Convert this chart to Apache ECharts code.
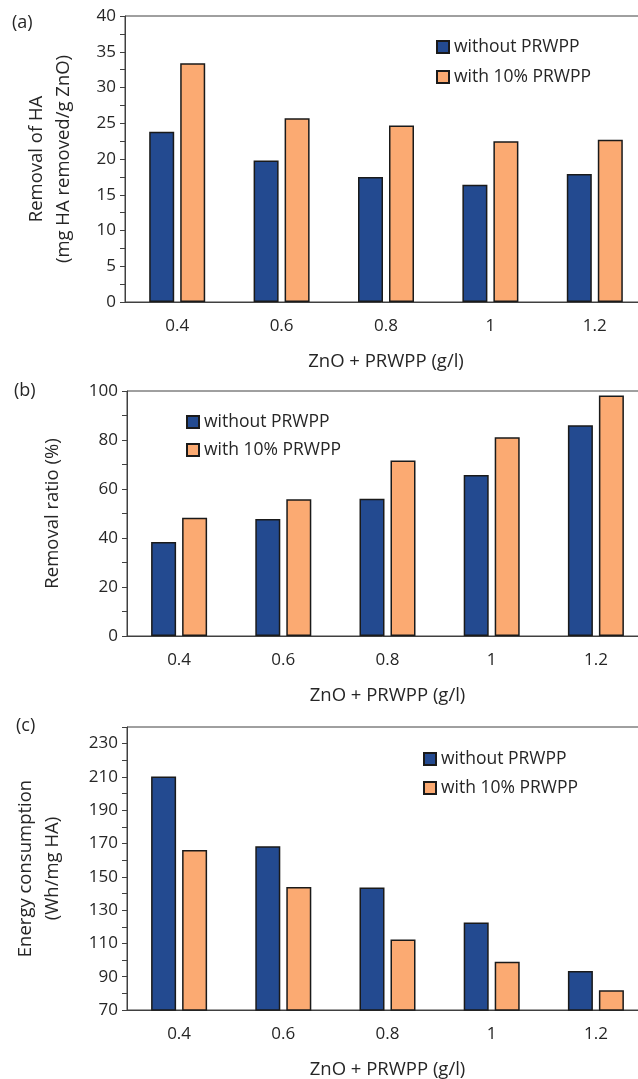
<!DOCTYPE html>
<html>
<head>
<meta charset="utf-8">
<script src="https://cdn.jsdelivr.net/npm/echarts@6/dist/echarts.min.js"></script>
<style>
  html, body { margin: 0; padding: 0; background: #fff; }
  #myChart { width: 638px; height: 1079px; }
</style>
</head>
<body>
<div id="myChart"></div>
<script>
// data
var categories = ['0.4', '0.6', '0.8', '1', '1.2']
var seriesNames = ['without PRWPP', 'with 10% PRWPP']
var removalWithout = [23.8, 19.8, 17.5, 16.4, 17.9]
var removalWith = [33.4, 25.7, 24.7, 22.5, 22.7]
var ratioWithout = [38.4, 47.8, 56.0, 65.7, 86.0]
var ratioWith = [48.3, 55.8, 71.6, 81.1, 98.2]
var energyWithout = [210.3, 168.3, 143.6, 122.6, 93.4]
var energyWith = [166.1, 143.9, 112.4, 99.0, 81.8]

// init color
var blueColor = '#234a90'
var orangeColor = '#fbaa72'
var edgeColor = '#1a1a1a'
var textColor = '#262626'
var lineColor = '#404040'
var fontFamily = '"Open Sans", sans-serif'

// plot areas run a little past the right edge, like the original
var grids = [
  { left: 125, top: 16, width: 522, height: 286, outerBoundsMode: 'none', show: true, borderColor: lineColor, borderWidth: 1 },
  { left: 127, top: 391, width: 521, height: 245, outerBoundsMode: 'none', show: true, borderColor: lineColor, borderWidth: 1 },
  { left: 127, top: 727, width: 521, height: 283, outerBoundsMode: 'none', show: true, borderColor: lineColor, borderWidth: 1 }
]

var xAxes = []
var yAxes = []
var series = []

function addXAxes(gridIndex) {
  // main category axis, ticks on the boundaries
  xAxes.push({
    type: 'category',
    gridIndex: gridIndex,
    position: 'bottom',
    data: categories,
    name: 'ZnO + PRWPP (g/l)',
    nameLocation: 'middle',
    nameGap: 50,
    nameTextStyle: { color: textColor, fontSize: 18.5, fontFamily: fontFamily },
    axisLine: { lineStyle: { color: lineColor, width: 1 } },
    axisTick: { length: 5, lineStyle: { color: lineColor } },
    axisLabel: { color: textColor, fontSize: 17, fontFamily: fontFamily, margin: 16 }
  })
  // second axis only for the ticks under each category
  xAxes.push({
    type: 'category',
    gridIndex: gridIndex,
    position: 'bottom',
    data: categories,
    axisLine: { show: false },
    axisTick: { alignWithLabel: true, length: 5, lineStyle: { color: lineColor } },
    axisLabel: { show: false }
  })
}

function addYAxis(gridIndex, min, max, interval, name, nameGap, showMax) {
  yAxes.push({
    type: 'value',
    gridIndex: gridIndex,
    min: min,
    max: max,
    interval: interval,
    name: name,
    nameLocation: 'middle',
    nameGap: nameGap,
    nameTextStyle: { color: textColor, fontSize: 18.5, lineHeight: 27, fontFamily: fontFamily },
    splitLine: { show: false },
    axisLine: { show: true, lineStyle: { color: lineColor, width: 1 } },
    axisTick: { show: true, length: 5, lineStyle: { color: lineColor } },
    minorTick: { show: true, splitNumber: 2, length: 5, lineStyle: { color: lineColor } },
    axisLabel: { color: textColor, fontSize: 17, fontFamily: fontFamily, margin: 9, showMaxLabel: showMax }
  })
}

function addBars(gridIndex, withoutData, withData) {
  var common = {
    type: 'bar',
    xAxisIndex: gridIndex * 2,
    yAxisIndex: gridIndex,
    barWidth: 25,
    barGap: '24%'
  }
  series.push(Object.assign({}, common, {
    name: seriesNames[0],
    data: withoutData,
    itemStyle: { color: blueColor, borderColor: edgeColor, borderWidth: 1.5 }
  }))
  series.push(Object.assign({}, common, {
    name: seriesNames[1],
    data: withData,
    itemStyle: { color: orangeColor, borderColor: edgeColor, borderWidth: 1.5 }
  }))
}

// panel a
addXAxes(0)
addYAxis(0, 0, 40, 5, 'Removal of HA\n(mg HA removed/g ZnO)', 48, true)
addBars(0, removalWithout, removalWith)
// panel b
addXAxes(1)
addYAxis(1, 0, 100, 20, 'Removal ratio (%)', 61, true)
addBars(1, ratioWithout, ratioWith)
// panel c
addXAxes(2)
addYAxis(2, 70, 240, 20, 'Energy consumption\n(Wh/mg HA)', 61, false)
addBars(2, energyWithout, energyWith)

function makeLegend(left, top, gap) {
  return {
    data: seriesNames,
    orient: 'vertical',
    left: left,
    top: top,
    padding: 0,
    icon: 'rect',
    itemWidth: 12,
    itemHeight: 12,
    itemGap: gap,
    textStyle: { color: textColor, fontSize: 17.5, fontFamily: fontFamily }
  }
}

function makeTitle(text, left, top) {
  return {
    text: text,
    left: left,
    top: top,
    padding: 0,
    textStyle: { color: textColor, fontSize: 18, fontWeight: 'normal', fontFamily: fontFamily }
  }
}

var echartOption = {
  animation: false,
  backgroundColor: '#fff',
  title: [makeTitle('(a)', 12, 14), makeTitle('(b)', 14, 382), makeTitle('(c)', 16, 717)],
  legend: [makeLegend(436, 38, 12), makeLegend(186, 413, 10), makeLegend(423, 750, 11)],
  grid: grids,
  xAxis: xAxes,
  yAxis: yAxes,
  series: series
}

var myChart = echarts.init(document.getElementById('myChart'), null, { renderer: 'canvas' })
myChart.setOption(echartOption)
</script>
</body>
</html>
